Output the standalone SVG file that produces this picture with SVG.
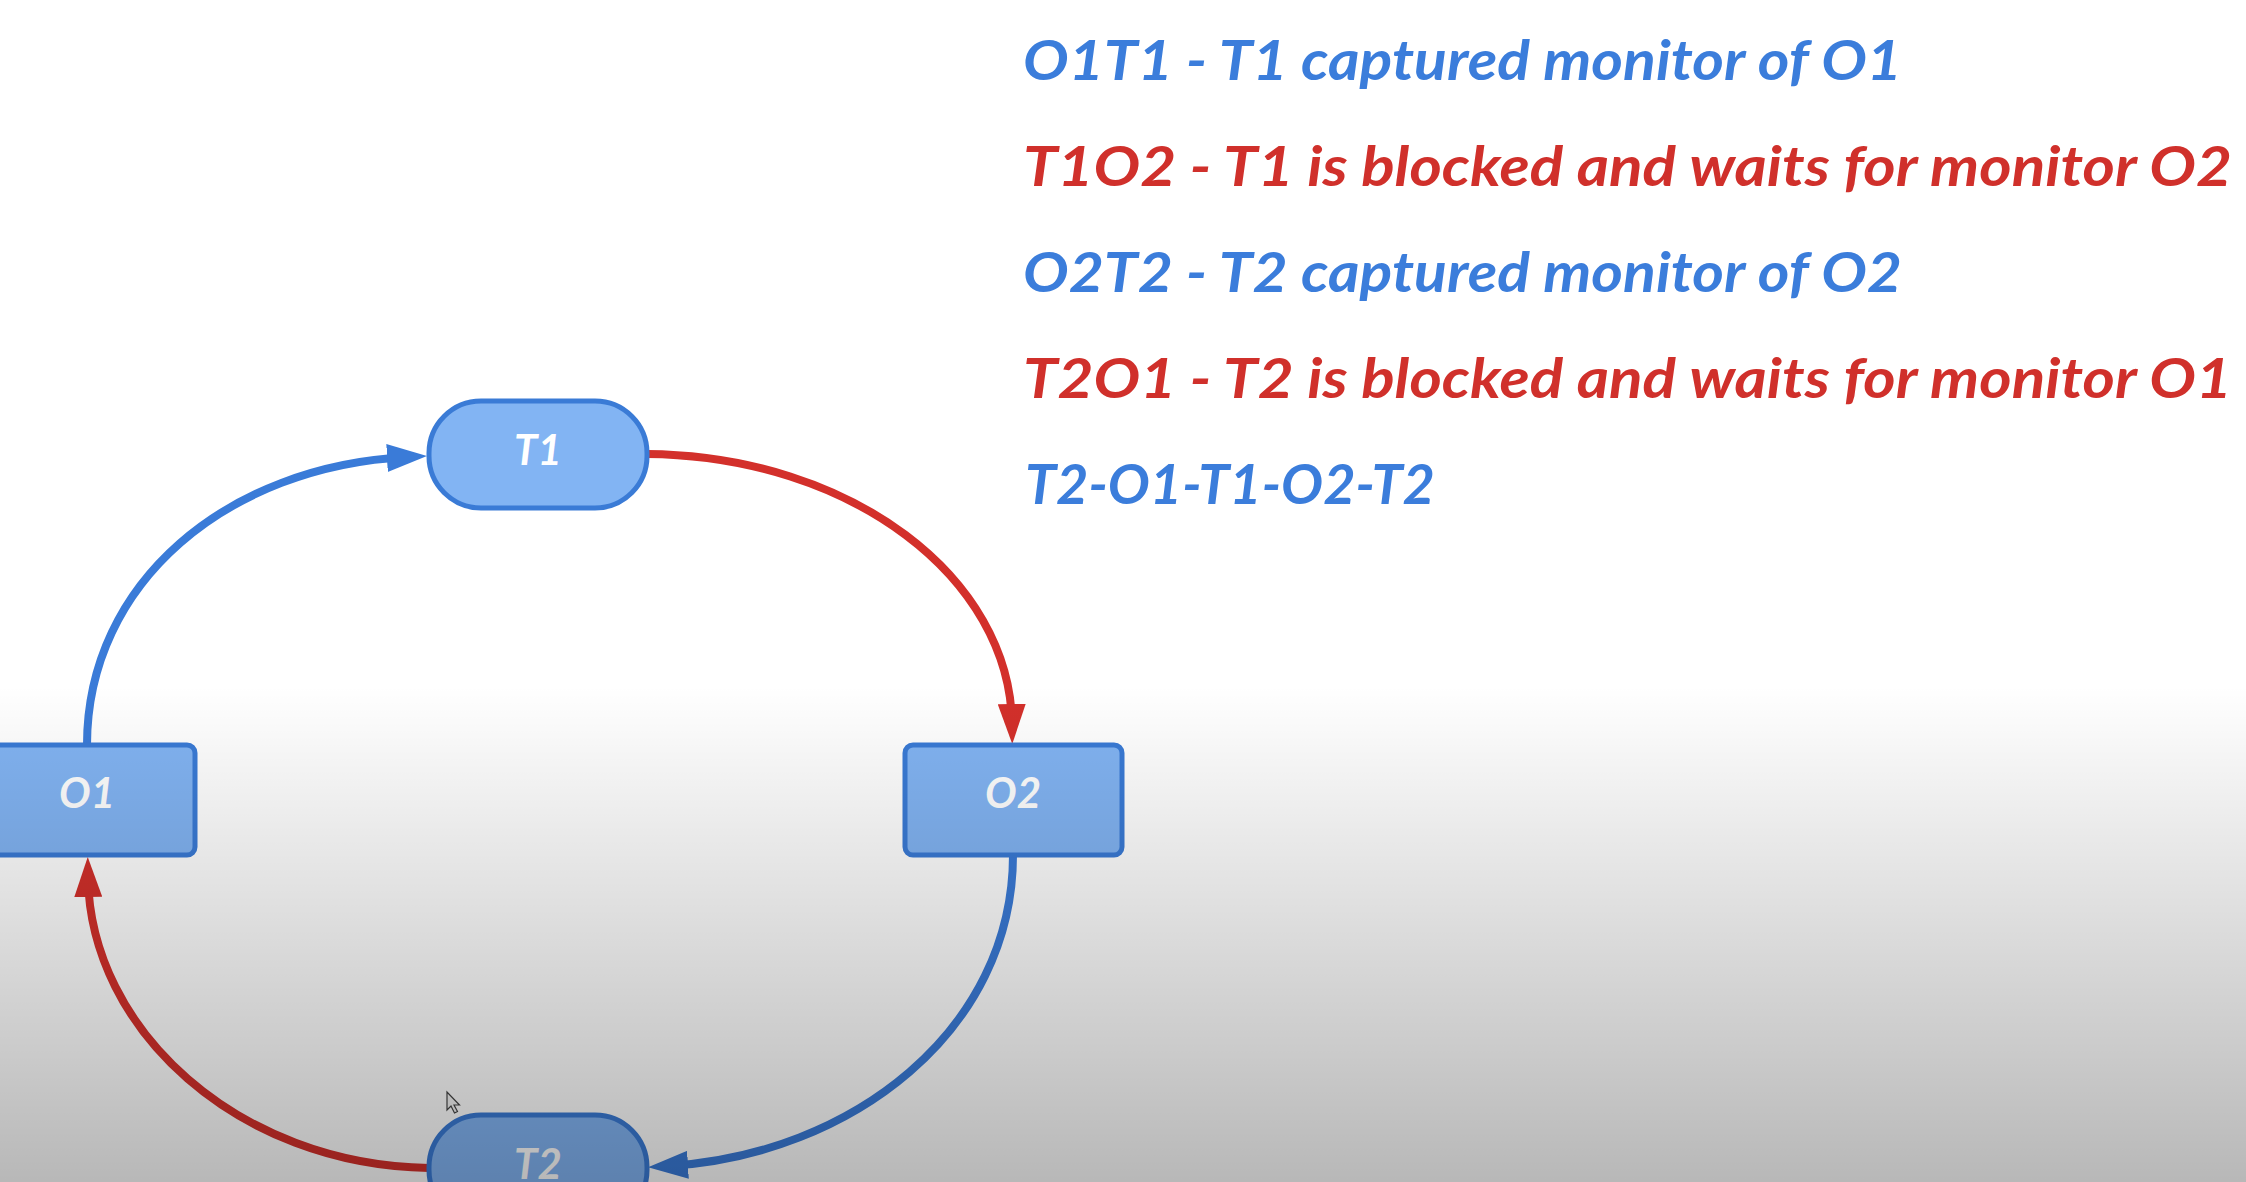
<svg xmlns="http://www.w3.org/2000/svg" width="2246" height="1182" viewBox="0 0 2246 1182">
<style>
.box{fill:#82b4f3;stroke:#3a7bd6;stroke-width:5}
.lbl{font-family:Lato,"Liberation Sans",sans-serif;font-weight:bold;font-style:italic;font-size:42px;fill:#ffffff;text-anchor:middle}
.leg{font-family:Lato,"Liberation Sans",sans-serif;font-weight:bold;font-style:italic;font-size:56px}
.blue{fill:#3b7ddb}
.red{fill:#d0302b}
.cb{fill:none;stroke:#3a7bd8;stroke-width:8}
.cr{fill:none;stroke:#d3302b;stroke-width:8}
</style>
<defs>
<marker id="ab" markerUnits="userSpaceOnUse" markerWidth="40" markerHeight="28" refX="20" refY="14" orient="auto" viewBox="0 0 40 28"><path d="M0,0 L40,14 L0,28 z" fill="#3a7bd8"/></marker>
<marker id="ar" markerUnits="userSpaceOnUse" markerWidth="40" markerHeight="28" refX="20" refY="14" orient="auto" viewBox="0 0 40 28"><path d="M0,0 L40,14 L0,28 z" fill="#d3302b"/></marker>
<linearGradient id="shade" x1="0" y1="0" x2="0" y2="1182" gradientUnits="userSpaceOnUse">
<stop offset="0.58" stop-color="#000" stop-opacity="0"/>
<stop offset="1" stop-color="#000" stop-opacity="0.28"/>
</linearGradient>
</defs>
<rect x="0" y="0" width="2246" height="1182" fill="#ffffff"/>
<g id="connectors">
<path class="cb" d="M87 745 C87 582 228 466 407 457" marker-end="url(#ab)"/>
<path class="cr" d="M647 454 C852 456 1010 578 1012 724" marker-end="url(#ar)"/>
<path class="cb" d="M1013 855 C1013 1030 852 1155 668 1166" marker-end="url(#ab)"/>
<path class="cr" d="M429 1168 C238 1165 90 1030 88 877" marker-end="url(#ar)"/>
</g>
<g id="T1"><rect class="box" x="429" y="401" width="218" height="107" rx="52" ry="52"/><text class="lbl" x="538" y="465">T1</text></g>
<g id="O1"><rect class="box" x="-22" y="745" width="217" height="110" rx="8" ry="8"/><text class="lbl" x="87" y="808">O1</text></g>
<g id="O2"><rect class="box" x="905" y="745" width="217" height="110" rx="8" ry="8"/><text class="lbl" x="1013" y="808">O2</text></g>
<g id="T2"><rect class="box" x="429" y="1115" width="218" height="107" rx="52" ry="52"/><text class="lbl" x="538" y="1179">T2</text></g>
<g id="legend">
<text class="leg blue" x="1023" y="80" textLength="879" lengthAdjust="spacingAndGlyphs">O1T1 - T1 captured monitor of O1</text>
<text class="leg red" x="1023" y="186" textLength="1209" lengthAdjust="spacingAndGlyphs">T1O2 - T1 is blocked and waits for monitor O2</text>
<text class="leg blue" x="1023" y="292" textLength="879" lengthAdjust="spacingAndGlyphs">O2T2 - T2 captured monitor of O2</text>
<text class="leg red" x="1023" y="398" textLength="1209" lengthAdjust="spacingAndGlyphs">T2O1 - T2 is blocked and waits for monitor O1</text>
<text class="leg blue" x="1025" y="504" textLength="410" lengthAdjust="spacingAndGlyphs">T2-O1-T1-O2-T2</text>
</g>
<path id="cursor" d="M447 1092 L447 1110 L451 1106 L454.5 1113 L457.5 1111.5 L454 1105 L459.5 1105 Z" fill="#f4f4f4" stroke="#444" stroke-width="1.2"/>
<rect id="shade-overlay" x="0" y="0" width="2246" height="1182" fill="url(#shade)"/>
</svg>
